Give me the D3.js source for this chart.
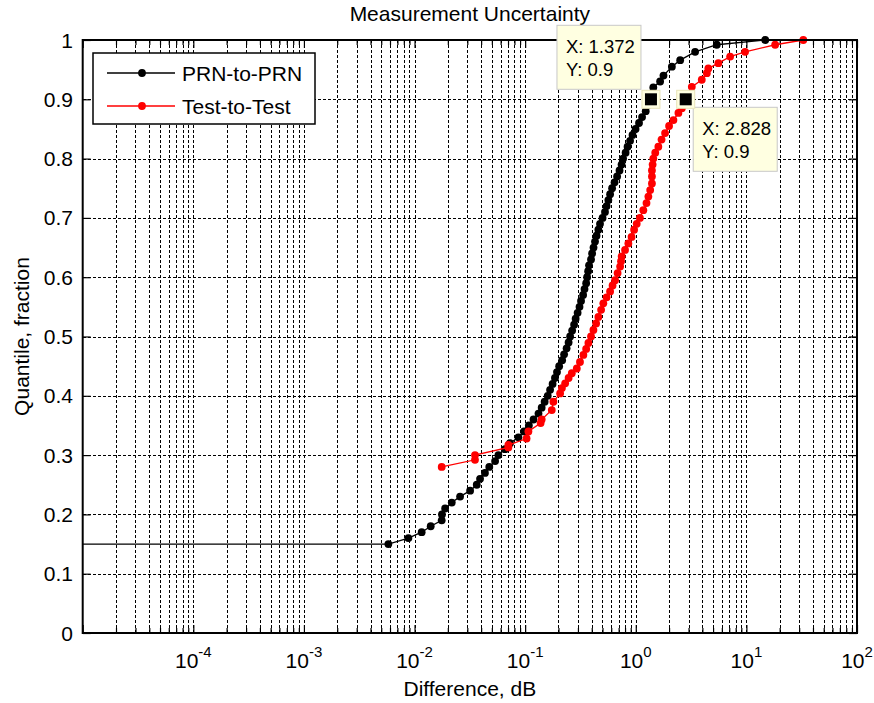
<!DOCTYPE html>
<html>
<head>
<meta charset="utf-8">
<script src="https://cdn.jsdelivr.net/npm/d3@7"></script>
<style>
  body { margin: 0; background: #fff; }
  text { font-family: "Liberation Sans", Arial, sans-serif; fill: #000; }
</style>
</head>
<body>
<div id="chart"></div>
<script>
// PRN-to-PRN quantile curve (x in dB, y quantile)
const blackX = [0.000001, 0.0058, 0.0088, 0.0116, 0.014, 0.0176, 0.0177, 0.0189, 0.0217, 0.0258, 0.0318, 0.0365, 0.0391, 0.0433, 0.0474, 0.0535, 0.0573, 0.0658, 0.0729, 0.0869, 0.0977, 0.108, 0.119, 0.132, 0.141, 0.150, 0.160, 0.168, 0.177, 0.186, 0.194, 0.203, 0.216, 0.225, 0.237, 0.247, 0.255, 0.266, 0.277, 0.286, 0.298, 0.310, 0.320, 0.334, 0.344, 0.356, 0.363, 0.371, 0.378, 0.394, 0.403, 0.415, 0.428, 0.442, 0.459, 0.475, 0.501, 0.527, 0.545, 0.565, 0.586, 0.611, 0.643, 0.678, 0.713, 0.744, 0.768, 0.809, 0.843, 0.888, 0.935, 0.996, 1.07, 1.14, 1.23, 1.28, 1.372, 1.42, 1.44, 1.66, 1.78, 2.12, 2.52, 3.44, 5.40, 14.8];
const blackY = [0.15, 0.15, 0.16, 0.17, 0.18, 0.19, 0.20, 0.21, 0.22, 0.23, 0.24, 0.25, 0.26, 0.27, 0.28, 0.29, 0.30, 0.31, 0.32, 0.33, 0.34, 0.35, 0.36, 0.37, 0.38, 0.39, 0.40, 0.41, 0.42, 0.43, 0.44, 0.45, 0.46, 0.47, 0.48, 0.49, 0.50, 0.51, 0.52, 0.53, 0.54, 0.55, 0.56, 0.57, 0.58, 0.59, 0.60, 0.61, 0.62, 0.63, 0.64, 0.65, 0.66, 0.67, 0.68, 0.69, 0.70, 0.71, 0.72, 0.73, 0.74, 0.75, 0.76, 0.77, 0.78, 0.79, 0.80, 0.81, 0.82, 0.83, 0.84, 0.85, 0.86, 0.87, 0.88, 0.89, 0.90, 0.91, 0.92, 0.93, 0.94, 0.955, 0.966, 0.98, 0.992, 1.0];

// Test-to-Test quantile curve
const redX = [0.0176, 0.0352, 0.0352, 0.0705, 0.0705, 0.103, 0.107, 0.138, 0.141, 0.174, 0.180, 0.207, 0.215, 0.230, 0.247, 0.264, 0.293, 0.313, 0.336, 0.356, 0.373, 0.394, 0.414, 0.438, 0.459, 0.486, 0.509, 0.545, 0.586, 0.617, 0.650, 0.685, 0.722, 0.736, 0.746, 0.800, 0.857, 0.916, 0.966, 1.02, 1.09, 1.17, 1.25, 1.30, 1.35, 1.40, 1.40, 1.40, 1.42, 1.44, 1.50, 1.60, 1.71, 1.84, 2.00, 2.19, 2.43, 2.61, 2.828, 3.21, 3.95, 4.39, 4.53, 5.58, 7.13, 9.73, 18.2, 32.7];
const redY = [0.28, 0.292, 0.30, 0.313, 0.317, 0.328, 0.34, 0.354, 0.36, 0.376, 0.39, 0.404, 0.413, 0.421, 0.43, 0.438, 0.446, 0.457, 0.469, 0.479, 0.489, 0.50, 0.511, 0.522, 0.533, 0.545, 0.556, 0.566, 0.576, 0.586, 0.595, 0.607, 0.618, 0.627, 0.635, 0.646, 0.657, 0.668, 0.68, 0.69, 0.70, 0.713, 0.725, 0.736, 0.747, 0.758, 0.77, 0.78, 0.79, 0.80, 0.81, 0.82, 0.832, 0.843, 0.855, 0.865, 0.877, 0.885, 0.90, 0.921, 0.933, 0.944, 0.952, 0.961, 0.972, 0.98, 0.992, 1.0];

// data tips
const tipX = [1.372, 2.828];
const tipY = [0.9, 0.9];

const seriesNames = ["PRN-to-PRN", "Test-to-Test"];
const seriesColors = ["#000000", "#ff0000"];
const xTickExps = [-4, -3, -2, -1, 0, 1, 2];
const yTicks = [0, 0.1, 0.2, 0.3, 0.4, 0.5, 0.6, 0.7, 0.8, 0.9, 1];
const yTickLabels = ["0", "0.1", "0.2", "0.3", "0.4", "0.5", "0.6", "0.7", "0.8", "0.9", "1"];

const W = 874, H = 703;
const pLeft = 82.7, pRight = 857, pTop = 40, pBottom = 633;

const svg = d3.select("#chart").append("svg").attr("width", W).attr("height", H);

const x = d3.scaleLog().domain([1e-5, 100]).range([pLeft, pRight]);
const y = d3.scaleLinear().domain([0, 1]).range([pBottom, pTop]);

// all 1..9 x 10^k positions
const xAll = x.ticks();
const xMajor = xAll.filter(v => Math.abs(Math.log10(v) - Math.round(Math.log10(v))) < 1e-9);
const xMinor = xAll.filter(v => !xMajor.includes(v));

// grid (dotted, snapped to pixels)
const snap = v => Math.round(v) + 0.5;
const grid = svg.append("g").attr("shape-rendering", "crispEdges");
grid.selectAll(".vg").data(xAll.filter(v => v > 1e-5 && v < 100)).join("line")
  .attr("x1", d => snap(x(d))).attr("x2", d => snap(x(d))).attr("y1", pTop).attr("y2", pBottom)
  .attr("stroke", "#000").attr("stroke-width", 1).attr("stroke-dasharray", "3,2");
grid.selectAll(".hg").data(yTicks.slice(1, -1)).join("line")
  .attr("x1", pLeft).attr("x2", pRight).attr("y1", d => snap(y(d))).attr("y2", d => snap(y(d)))
  .attr("stroke", "#000").attr("stroke-width", 1).attr("stroke-dasharray", "3,2");

// tick marks via axes (inside)
function tickAxis(axis, transform) {
  const g = svg.append("g").attr("transform", transform).call(axis);
  g.select(".domain").remove();
  g.selectAll(".tick line").attr("stroke", "#000").attr("stroke-width", 1.2);
  g.selectAll(".tick text").remove();
}
tickAxis(d3.axisBottom(x).tickValues(xMajor).tickSize(-8), `translate(0,${pBottom})`);
tickAxis(d3.axisBottom(x).tickValues(xMinor).tickSize(-5), `translate(0,${pBottom})`);
tickAxis(d3.axisTop(x).tickValues(xMajor).tickSize(-8), `translate(0,${pTop})`);
tickAxis(d3.axisTop(x).tickValues(xMinor).tickSize(-5), `translate(0,${pTop})`);
tickAxis(d3.axisLeft(y).tickValues(yTicks).tickSize(-8), `translate(${pLeft},0)`);
tickAxis(d3.axisRight(y).tickValues(yTicks).tickSize(-8), `translate(${pRight},0)`);

// data
svg.append("defs").append("clipPath").attr("id", "clip")
  .append("rect").attr("x", pLeft).attr("y", pTop - 6).attr("width", pRight - pLeft).attr("height", pBottom - pTop + 6);
const plot = svg.append("g").attr("clip-path", "url(#clip)");

const line = d3.line().x(d => x(d[0])).y(d => y(d[1]));
const series = [d3.zip(blackX, blackY), d3.zip(redX, redY)];

series.forEach((pts, i) => {
  plot.append("path").datum(pts).attr("d", line)
    .attr("fill", "none").attr("stroke", seriesColors[i]).attr("stroke-width", 1.3);
  plot.selectAll(".m" + i).data(pts).join("circle")
    .attr("cx", d => x(d[0])).attr("cy", d => y(d[1])).attr("r", 3.9)
    .attr("fill", seriesColors[i]);
});

// box
svg.append("rect").attr("x", pLeft).attr("y", pTop).attr("width", pRight - pLeft).attr("height", pBottom - pTop)
  .attr("fill", "none").attr("stroke", "#000").attr("stroke-width", 2);

// tick labels
const xl = svg.append("g").attr("font-size", 21);
xTickExps.forEach(e => {
  const t = xl.append("text").attr("x", x(Math.pow(10, e))).attr("y", 668).attr("text-anchor", "middle");
  t.append("tspan").text("10");
  t.append("tspan").attr("dy", -11).attr("font-size", 15).text(e);
});
svg.append("g").selectAll("text").data(yTicks).join("text")
  .attr("x", 73).attr("y", d => y(d)).attr("dy", "0.36em")
  .attr("text-anchor", "end").attr("font-size", 21)
  .text((d, i) => yTickLabels[i]);

// titles
svg.append("text").attr("x", (pLeft + pRight) / 2).attr("y", 21).attr("text-anchor", "middle")
  .attr("font-size", 21).text("Measurement Uncertainty");
svg.append("text").attr("x", (pLeft + pRight) / 2).attr("y", 696).attr("text-anchor", "middle")
  .attr("font-size", 21).text("Difference, dB");
svg.append("text").attr("transform", `translate(29,${(pTop + pBottom) / 2}) rotate(-90)`)
  .attr("text-anchor", "middle").attr("font-size", 21).text("Quantile, fraction");

// legend
const lg = svg.append("g");
lg.append("rect").attr("x", 93).attr("y", 53).attr("width", 222).attr("height", 71)
  .attr("fill", "#fff").attr("stroke", "#000").attr("stroke-width", 1.5);
seriesNames.forEach((name, i) => {
  const cy = 73 + i * 33;
  lg.append("line").attr("x1", 107).attr("x2", 175).attr("y1", cy).attr("y2", cy)
    .attr("stroke", seriesColors[i]).attr("stroke-width", 1.3);
  lg.append("circle").attr("cx", 142).attr("cy", cy).attr("r", 3.9).attr("fill", seriesColors[i]);
  lg.append("text").attr("x", 182).attr("y", cy).attr("dy", "0.36em").attr("font-size", 21).text(name);
});

// data tips
const tipOffsets = [[-94, -74], [7.5, 8]];
tipX.forEach((tx, i) => {
  const px = x(tx), py = y(tipY[i]);
  const bx = px + tipOffsets[i][0], by = py + tipOffsets[i][1];
  svg.append("rect").attr("x", bx).attr("y", by).attr("width", 84).attr("height", 64)
    .attr("fill", "#ffffe1").attr("stroke", "#c8c8c8").attr("stroke-width", 1);
  svg.append("text").attr("x", bx + 9).attr("y", by + 28).attr("font-size", 18.5).text("X: " + tx);
  svg.append("text").attr("x", bx + 9).attr("y", by + 51).attr("font-size", 18.5).text("Y: " + tipY[i]);
  svg.append("rect").attr("x", px - 9).attr("y", py - 9).attr("width", 18).attr("height", 18)
    .attr("fill", "#ffffe1").attr("stroke", "#e8e4b8").attr("stroke-width", 1);
  svg.append("rect").attr("x", px - 6).attr("y", py - 6).attr("width", 12).attr("height", 12)
    .attr("fill", "#000");
});
</script>
</body>
</html>
